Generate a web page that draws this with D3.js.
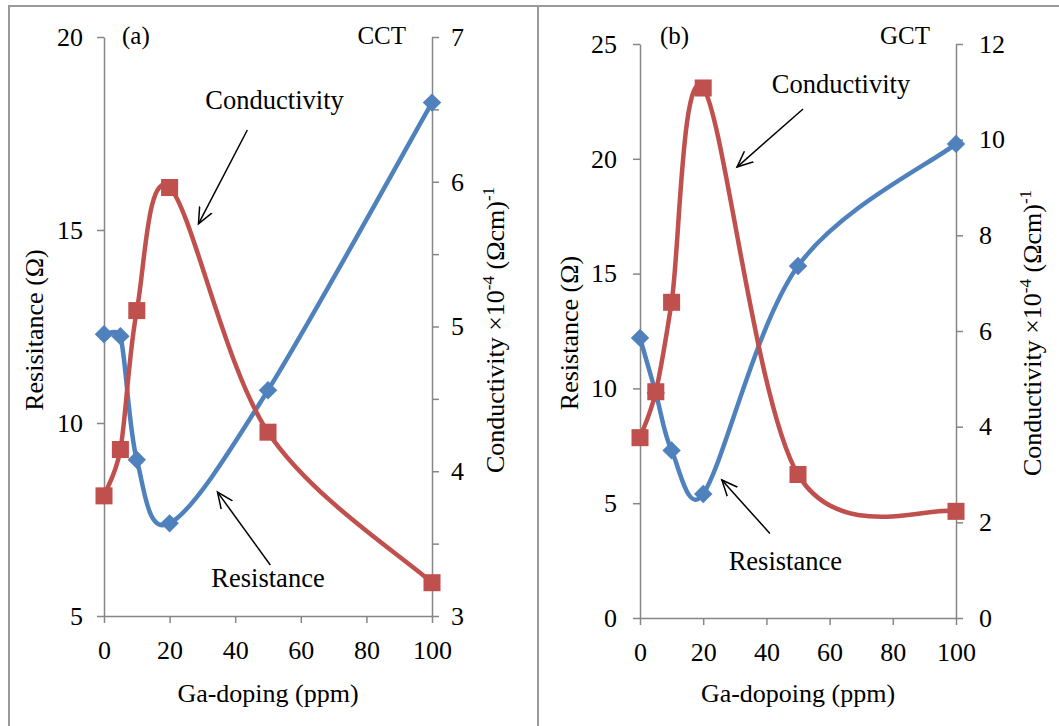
<!DOCTYPE html>
<html>
<head>
<meta charset="utf-8">
<script src="https://cdn.jsdelivr.net/npm/d3@7/dist/d3.min.js"></script>
<style>
  body { margin: 0; background: #fff; }
  svg { display: block; }
</style>
</head>
<body>
<svg id="chart" width="1059" height="726"></svg>
<script>
// values
const dopingPpm = [0, 5, 10, 20, 50, 100];

const cctResistance   = [12.3, 12.25, 9.05, 7.4, 10.85, 18.3];
const cctConductivity = [3.83, 4.15, 5.11, 5.96, 4.27, 3.23];

const gctResistance   = [12.2, 9.8, 7.3, 5.4, 15.33, 20.65];
const gctConductivity = [3.77, 4.73, 6.6, 11.08, 3.0, 2.23];

const xTicks = [0, 20, 40, 60, 80, 100];
const cctLeftTicks  = [5, 10, 15, 20];
const cctRightTicks = [3, 3.5, 4, 4.5, 5, 5.5, 6, 6.5, 7];
const gctLeftTicks  = [0, 5, 10, 15, 20, 25];
const gctRightTicks = [0, 2, 4, 6, 8, 10, 12];

const blue = '#4f81bd', red = '#c0504d', axisGray = '#868686';
const serif = '"Liberation Serif"';

const svg = d3.select('#chart');

// spreadsheet-style smoothing: catmull-rom tangents, arms kept short on short segments
function smoothCurve(context) {
  let pts;
  return {
    areaStart() {}, areaEnd() {},
    lineStart() { pts = []; },
    point(x, y) { pts.push([+x, +y]); },
    lineEnd() {
      const n = pts.length;
      context.moveTo(pts[0][0], pts[0][1]);
      for (let i = 0; i < n - 1; i++) {
        const p0 = pts[Math.max(i - 1, 0)], p1 = pts[i], p2 = pts[i + 1], p3 = pts[Math.min(i + 2, n - 1)];
        const seg = Math.hypot(p2[0] - p1[0], p2[1] - p1[1]);
        const clamp = v => {
          const l = Math.hypot(v[0], v[1]), m = seg * 0.5;
          return l > m ? [v[0] * m / l, v[1] * m / l] : v;
        };
        const a = clamp([(p2[0] - p0[0]) / 6, (p2[1] - p0[1]) / 6]);
        const b = clamp([(p3[0] - p1[0]) / 6, (p3[1] - p1[1]) / 6]);
        context.bezierCurveTo(p1[0] + a[0], p1[1] + a[1], p2[0] - b[0], p2[1] - b[1], p2[0], p2[1]);
      }
    }
  };
}

// table cell borders round the two charts
svg.append('path')
  .attr('d', 'M9,726 V6 H1059 M538,6 V726')
  .attr('fill', 'none')
  .attr('stroke', '#999')
  .attr('stroke-width', 2);

// open arrow head for the call-outs
svg.append('defs').append('marker')
  .attr('id', 'arrow')
  .attr('markerUnits', 'userSpaceOnUse')
  .attr('markerWidth', 20).attr('markerHeight', 20)
  .attr('refX', 16).attr('refY', 8)
  .attr('orient', 'auto')
  .append('path')
    .attr('d', 'M0,1 L16,8 L0,15')
    .attr('fill', 'none')
    .attr('stroke', '#000')
    .attr('stroke-width', 1.5);

function styleAxis(g) {
  g.attr('font-family', null);
  g.selectAll('path, line').attr('stroke', axisGray).attr('stroke-width', 1.5);
  g.selectAll('text')
    .attr('fill', '#000')
    .style('font-size', '26px');
}

function drawPanel(p) {
  const x  = d3.scaleLinear().domain([0, 100]).range([p.x0, p.x1]);
  const yL = d3.scaleLinear().domain(p.leftDomain).range([p.y0, p.y1]);
  const yR = d3.scaleLinear().domain(p.rightDomain).range([p.y0, p.y1]);

  svg.append('g')
    .attr('transform', `translate(${p.x0},0)`)
    .call(d3.axisLeft(yL).tickValues(p.leftTicks).tickSize(7).tickSizeOuter(0).tickPadding(p.padL))
    .call(styleAxis);

  svg.append('g')
    .attr('transform', `translate(${p.x1},0)`)
    .call(d3.axisRight(yR).tickValues(p.rightTicks).tickSize(7).tickSizeOuter(0).tickPadding(p.padR)
      .tickFormat(d => Number.isInteger(d) ? d : ''))
    .call(styleAxis);

  svg.append('g')
    .attr('transform', `translate(0,${p.y0})`)
    .call(d3.axisBottom(x).tickValues(xTicks).tickSize(7).tickSizeOuter(0).tickPadding(18))
    .call(styleAxis);

  // series: resistance on the left axis, conductivity on the right one
  const resLine = d3.line()
    .x((d, i) => x(dopingPpm[i]))
    .y(d => yL(d))
    .curve(smoothCurve);
  const conLine = d3.line()
    .x((d, i) => x(dopingPpm[i]))
    .y(d => yR(d))
    .curve(smoothCurve);

  svg.append('path')
    .attr('d', resLine(p.resistance))
    .attr('fill', 'none').attr('stroke', blue).attr('stroke-width', 4.5);
  svg.append('g').selectAll('path')
    .data(p.resistance)
    .join('path')
      .attr('d', d3.symbol(d3.symbolSquare, 170))
      .attr('transform', (d, i) => `translate(${x(dopingPpm[i])},${yL(d)}) rotate(45)`)
      .attr('fill', blue);

  svg.append('path')
    .attr('d', conLine(p.conductivity))
    .attr('fill', 'none').attr('stroke', red).attr('stroke-width', 4.5);
  svg.append('g').selectAll('path')
    .data(p.conductivity)
    .join('path')
      .attr('d', d3.symbol(d3.symbolSquare, 290))
      .attr('transform', (d, i) => `translate(${x(dopingPpm[i])},${yR(d)})`)
      .attr('fill', red);

  // axis titles
  svg.append('text')
    .attr('x', (p.x0 + p.x1) / 2).attr('y', p.xTitleY)
    .attr('text-anchor', 'middle').attr('dy', '0.35em')
    .style('font-size', '26px')
    .text(p.xTitle);

  svg.append('text')
    .attr('transform', `translate(${p.leftTitleX},${p.titleMidY}) rotate(-90)`)
    .attr('text-anchor', 'middle').attr('dy', '0.35em')
    .style('font-size', '26px')
    .text(p.leftTitle);

  const rt = svg.append('text')
    .attr('transform', `translate(${p.rightTitleX},${p.titleMidY}) rotate(-90)`)
    .attr('text-anchor', 'middle').attr('dy', '0.35em')
    .style('font-size', '26px');
  rt.append('tspan').text('Conductivity \u00d710');
  rt.append('tspan').attr('dy', -10).style('font-size', '17px').text('-4');
  rt.append('tspan').attr('dy', 10).text(' (\u03a9cm)');
  rt.append('tspan').attr('dy', -10).style('font-size', '17px').text('-1');

  // panel tags
  svg.append('text')
    .attr('x', p.tagX).attr('y', p.tagY)
    .style('font-size', '25px')
    .text(p.tag);
  svg.append('text')
    .attr('x', p.nameX).attr('y', p.tagY)
    .attr('text-anchor', 'end')
    .style('font-size', '25px')
    .text(p.name);

  // call-outs, placed in data units of the left axis
  p.notes.forEach(n => {
    svg.append('text')
      .attr('x', x(n.tx)).attr('y', yL(n.ty))
      .attr('text-anchor', 'middle')
      .style('font-size', '26.5px')
      .text(n.label);
    svg.append('line')
      .attr('x1', x(n.ax1)).attr('y1', yL(n.ay1))
      .attr('x2', x(n.ax2)).attr('y2', yL(n.ay2))
      .attr('stroke', '#000').attr('stroke-width', 1.5)
      .attr('marker-end', 'url(#arrow)');
  });
}

drawPanel({
  x0: 104, x1: 432, y0: 616, y1: 37, padL: 14, padR: 12,
  leftDomain: [5, 20], rightDomain: [3, 7],
  leftTicks: cctLeftTicks, rightTicks: cctRightTicks,
  resistance: cctResistance, conductivity: cctConductivity,
  xTitle: 'Ga-doping (ppm)', xTitleY: 693,
  leftTitle: 'Resisitance (\u03a9)', leftTitleX: 34, rightTitleX: 495, titleMidY: 330,
  tag: '(a)', tagX: 122, tagY: 44, name: 'CCT', nameX: 406,
  notes: [
    { label: 'Conductivity', tx: 52, ty: 18.13, ax1: 43.7, ay1: 17.59, ax2: 28.8, ay2: 15.16 },
    { label: 'Resistance',   tx: 50, ty: 5.75,  ax1: 50.7, ay1: 6.32,  ax2: 34.6, ay2: 8.21 }
  ]
});

drawPanel({
  x0: 640, x1: 956, y0: 618, y1: 44, padL: 16, padR: 16,
  leftDomain: [0, 25], rightDomain: [0, 12],
  leftTicks: gctLeftTicks, rightTicks: gctRightTicks,
  resistance: gctResistance, conductivity: gctConductivity,
  xTitle: 'Ga-dopoing (ppm)', xTitleY: 693,
  leftTitle: 'Resistance (\u03a9)', leftTitleX: 569, rightTitleX: 1032, titleMidY: 333,
  tag: '(b)', tagX: 660, tagY: 44, name: 'GCT', nameX: 930,
  notes: [
    { label: 'Conductivity', tx: 63.6, ty: 22.87, ax1: 51.6, ay1: 22.17, ax2: 30.7, ay2: 19.64 },
    { label: 'Resistance',   tx: 46,   ty: 2.09,  ax1: 41.1, ay1: 3.68,  ax2: 25.9, ay2: 6.01 }
  ]
});

// one serif face for every label
svg.selectAll('text').style('font-family', serif);
</script>
</body>
</html>
